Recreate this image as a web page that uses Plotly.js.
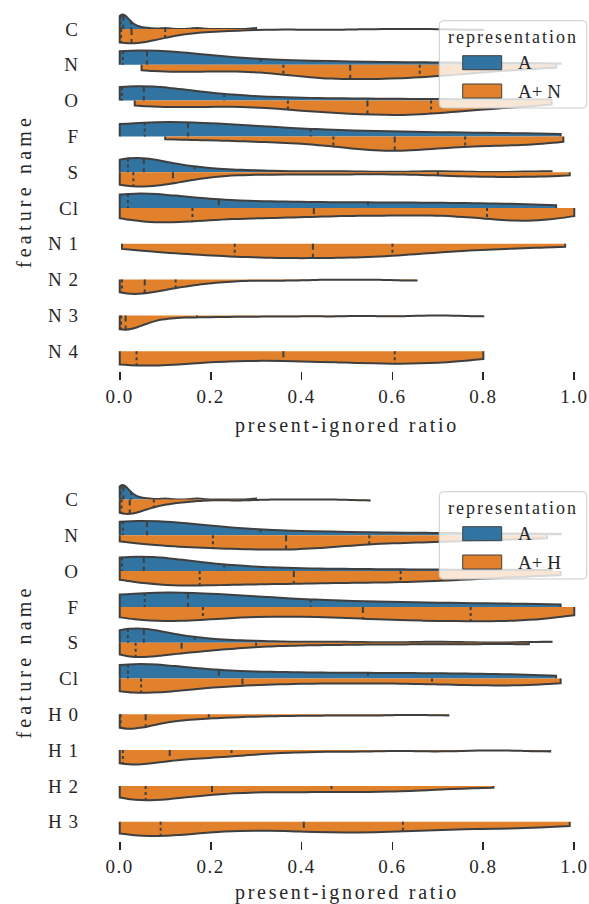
<!DOCTYPE html>
<html><head><meta charset="utf-8">
<script src="https://cdn.plot.ly/plotly-3.0.1.min.js"></script>
<style>
html,body{margin:0;padding:0;overflow:hidden;background:#fff}
.xtick text,.x2tick text{letter-spacing:1.5px}
.ytick text,.y2tick text{letter-spacing:1px}
.xtitle,.x2title{letter-spacing:2.7px}
.ytitle,.y2title{letter-spacing:4.2px}
</style>
</head><body><div id="chart"></div>
<script>
// ---------- categories / labels ----------
const catsTop = ['C','N','O','F','S','Cl','N 1','N 2','N 3','N 4'];
const catsBot = ['C','N','O','F','S','Cl','H 0','H 1','H 2','H 3'];
const xTickVals = [0, 0.2, 0.4, 0.6, 0.8, 1.0];
const xTickText = ['0.0','0.2','0.4','0.6','0.8','1.0'];
const seriesTop = ['A', 'A+ N'];
const seriesBot = ['A', 'A+ H'];

// ---------- samples: representation A (features C..Cl) ----------
const A_C  = [0,0,0,0.0005,0.001,0.0015,0.002,0.003,0.004,0.005,0.006,0.007,0.008,0.010,0.013,0.016,0.019,0.022,0.025,0.032,0.042,0.06,0.1,0.17,0.3];
const A_N  = [0,0,0.001,0.002,0.003,0.005,0.007,0.015,0.024,0.033,0.042,0.051,0.06,0.09,0.13,0.17,0.21,0.26,0.31,0.38,0.46,0.55,0.66,0.8,0.97];
const A_O  = [0,0,0.001,0.002,0.003,0.004,0.005,0.013,0.021,0.029,0.037,0.045,0.053,0.075,0.10,0.13,0.16,0.195,0.23,0.3,0.38,0.48,0.6,0.76,0.95];
const A_F  = [0,0.005,0.012,0.02,0.03,0.042,0.055,0.07,0.085,0.10,0.115,0.13,0.15,0.19,0.23,0.27,0.31,0.36,0.42,0.49,0.57,0.66,0.76,0.86,0.97];
const A_S  = [0,0.002,0.005,0.008,0.011,0.014,0.018,0.024,0.03,0.036,0.042,0.047,0.053,0.068,0.085,0.10,0.12,0.14,0.165,0.2,0.25,0.33,0.48,0.7,0.95];
const A_Cl = [0,0,0.002,0.005,0.009,0.013,0.018,0.045,0.075,0.105,0.14,0.18,0.218,0.27,0.32,0.37,0.43,0.49,0.546,0.61,0.67,0.73,0.8,0.88,0.96];

// ---------- samples: representation A+ N ----------
const AN_C  = [0,0,0,0.001,0.001,0.002,0.003,0.006,0.01,0.014,0.018,0.022,0.026,0.036,0.047,0.058,0.07,0.085,0.10,0.13,0.16,0.2,0.27,0.45,0.8];
const AN_N  = [0.048,0.08,0.12,0.17,0.23,0.29,0.36,0.39,0.415,0.44,0.46,0.485,0.507,0.535,0.56,0.585,0.61,0.635,0.66,0.69,0.72,0.76,0.8,0.86,0.96];
const AN_O  = [0.033,0.07,0.12,0.18,0.24,0.305,0.37,0.40,0.43,0.46,0.49,0.52,0.545,0.57,0.595,0.62,0.64,0.66,0.685,0.715,0.75,0.79,0.83,0.88,0.95];
const AN_F  = [0.10,0.19,0.27,0.33,0.38,0.43,0.47,0.50,0.525,0.55,0.57,0.59,0.605,0.625,0.65,0.675,0.70,0.73,0.76,0.795,0.83,0.865,0.9,0.94,0.976];
const AN_S  = [0,0.004,0.009,0.014,0.019,0.025,0.03,0.045,0.06,0.075,0.09,0.104,0.117,0.16,0.26,0.36,0.46,0.57,0.70,0.75,0.8,0.85,0.9,0.95,0.99];
const AN_Cl = [0,0.02,0.045,0.07,0.1,0.13,0.16,0.2,0.245,0.29,0.335,0.38,0.427,0.49,0.55,0.61,0.67,0.74,0.808,0.84,0.87,0.9,0.93,0.965,1.0];
const AN_N1 = [0.005,0.06,0.11,0.15,0.19,0.225,0.253,0.285,0.315,0.345,0.37,0.40,0.425,0.455,0.485,0.515,0.545,0.57,0.60,0.64,0.68,0.73,0.79,0.87,0.98];
const AN_N2 = [0,0,0.001,0.002,0.003,0.004,0.005,0.013,0.022,0.031,0.039,0.047,0.055,0.066,0.077,0.088,0.099,0.111,0.123,0.14,0.16,0.19,0.24,0.36,0.653];
const AN_N3 = [0,0,0,0.001,0.001,0.002,0.003,0.004,0.006,0.007,0.009,0.011,0.013,0.025,0.04,0.06,0.085,0.12,0.17,0.22,0.29,0.37,0.47,0.6,0.8];
const AN_N4 = [0,0,0.004,0.01,0.017,0.026,0.037,0.09,0.14,0.19,0.24,0.3,0.36,0.4,0.445,0.49,0.53,0.57,0.605,0.64,0.67,0.7,0.73,0.765,0.8];

// ---------- samples: representation A+ H ----------
const AH_C  = [0,0,0,0.001,0.002,0.003,0.004,0.007,0.01,0.013,0.016,0.019,0.022,0.03,0.038,0.047,0.056,0.065,0.075,0.09,0.105,0.125,0.16,0.26,0.55];
const AH_N  = [0,0.04,0.08,0.115,0.145,0.175,0.205,0.235,0.265,0.29,0.315,0.34,0.366,0.39,0.415,0.44,0.47,0.505,0.549,0.6,0.65,0.7,0.76,0.84,0.94];
const AH_O  = [0,0.03,0.06,0.09,0.12,0.148,0.176,0.21,0.245,0.28,0.315,0.35,0.383,0.42,0.46,0.5,0.54,0.58,0.618,0.66,0.7,0.75,0.81,0.88,0.97];
const AH_F  = [0,0.02,0.05,0.08,0.11,0.147,0.183,0.24,0.3,0.36,0.42,0.48,0.535,0.575,0.615,0.655,0.695,0.735,0.772,0.81,0.85,0.885,0.92,0.96,1.0];
const AH_S  = [0,0.004,0.009,0.015,0.021,0.028,0.035,0.052,0.069,0.086,0.103,0.12,0.136,0.155,0.175,0.2,0.23,0.26,0.3,0.36,0.43,0.52,0.63,0.76,0.9];
const AH_Cl = [0,0.005,0.012,0.02,0.028,0.037,0.047,0.08,0.115,0.15,0.19,0.23,0.27,0.33,0.4,0.47,0.54,0.61,0.687,0.74,0.79,0.84,0.885,0.93,0.97];
const AH_H0 = [0,0,0,0.0005,0.001,0.0015,0.002,0.011,0.02,0.03,0.039,0.048,0.057,0.075,0.095,0.115,0.14,0.165,0.196,0.23,0.28,0.35,0.44,0.56,0.723];
const AH_H1 = [0,0,0.001,0.002,0.003,0.005,0.007,0.024,0.041,0.058,0.075,0.092,0.11,0.13,0.152,0.175,0.198,0.222,0.246,0.28,0.33,0.41,0.53,0.7,0.947];
const AH_H2 = [0,0.008,0.017,0.026,0.036,0.046,0.057,0.08,0.105,0.13,0.155,0.18,0.203,0.245,0.29,0.335,0.38,0.42,0.466,0.51,0.555,0.6,0.645,0.7,0.822];
const AH_H3 = [0,0.014,0.029,0.044,0.059,0.074,0.09,0.135,0.185,0.235,0.29,0.345,0.405,0.44,0.475,0.51,0.55,0.585,0.623,0.68,0.74,0.8,0.86,0.925,0.99];

// ---------- kde bandwidths (style) ----------
const bwA  = [0.012, 0.13, 0.11, 0.17, 0.06, 0.1];
const bwAN = [0.06, 0.08, 0.08, 0.07, 0.08, 0.08, 0.08, 0.05, 0.04, 0.12];
const bwAH = [0.035, 0.08, 0.09, 0.1, 0.055, 0.09, 0.05, 0.06, 0.07, 0.1];

// ---------- style ----------
const FONT = '"Liberation Serif", "Times New Roman", serif';
const INK = '#262626', EDGE = '#3f3f3f', BLUE = '#3274a1', ORANGE = '#e1812c';
const LW = 2, VW = 0.8;
const W = 597, H = 904, ML = 97, PW = W - ML;
const px2x = p => (p - ML) / PW;
const px2y = p => (H - p) / H;

const listA = [A_C, A_N, A_O, A_F, A_S, A_Cl];
const listAN = [AN_C, AN_N, AN_O, AN_F, AN_S, AN_Cl, AN_N1, AN_N2, AN_N3, AN_N4];
const listAH = [AH_C, AH_N, AH_O, AH_F, AH_S, AH_Cl, AH_H0, AH_H1, AH_H2, AH_H3];

function quant(vals, p) {
  const s = vals.slice().sort((a, b) => a - b);
  const pos = p * (s.length - 1), lo = Math.floor(pos), hi = Math.ceil(pos);
  return s[lo] + (s[hi] - s[lo]) * (pos - lo);
}
function kde(vals, bw, x) {
  let s = 0;
  for (const v of vals) { const z = (x - v) / bw; s += Math.exp(-0.5 * z * z); }
  return s;
}
function maxKde(vals, bw) {
  const mn = Math.min(...vals), mx = Math.max(...vals);
  const dist = mx - mn, n = Math.ceil(dist / (bw / 3)), step = dist / n;
  let m = 0;
  for (let t = mn; t < mx + step / 2; t += step) m = Math.max(m, kde(vals, bw, t));
  return m;
}

const traces = [];
function violin(vals, pos, side, color, bw, xa, ya, name) {
  return {type: 'violin', orientation: 'h', x: vals, y0: pos, name: name, side: side,
    width: VW, bandwidth: bw, spanmode: 'hard', scalemode: 'width', points: false,
    box: {visible: false}, meanline: {visible: false}, fillcolor: color,
    line: {color: EDGE, width: LW}, xaxis: xa, yaxis: ya, showlegend: false, hoverinfo: 'skip'};
}
function quartiles(vals, bw, pos, dir, xa, ya) {
  const m = maxKde(vals, bw);
  const seg = q => { const h = (VW / 2) * kde(vals, bw, q) / m; return dir < 0 ? [pos - h, pos] : [pos, pos + h]; };
  const q1 = quant(vals, 0.25), q2 = quant(vals, 0.5), q3 = quant(vals, 0.75);
  const a = seg(q1), b = seg(q3), c = seg(q2);
  traces.push({type: 'scatter', mode: 'lines', x: [q1, q1, null, q3, q3], y: [a[0], a[1], null, b[0], b[1]],
    line: {color: EDGE, width: LW, dash: '3px,3px'}, xaxis: xa, yaxis: ya, showlegend: false, hoverinfo: 'skip'});
  traces.push({type: 'scatter', mode: 'lines', x: [q2, q2], y: c,
    line: {color: EDGE, width: LW, dash: '6px,4px'}, xaxis: xa, yaxis: ya, showlegend: false, hoverinfo: 'skip'});
}
function panel(blue, bwB, orange, bwO, xa, ya, names) {
  orange.forEach((v, i) => {
    if (blue[i]) traces.push(violin(blue[i], i, 'negative', BLUE, bwB[i], xa, ya, names[0]));
    traces.push(violin(v, i, 'positive', ORANGE, bwO[i], xa, ya, names[1]));
  });
  orange.forEach((v, i) => {
    if (blue[i]) quartiles(blue[i], bwB[i], i, -1, xa, ya);
    quartiles(v, bwO[i], i, 1, xa, ya);
  });
}
panel(listA, bwA, listAN, bwAN, 'x', 'y', seriesTop);
panel(listA, bwA, listAH, bwAH, 'x2', 'y2', seriesBot);

// ---------- axes ----------
function xAxis(anchor) {
  return {domain: [0, 1], anchor: anchor, range: [-0.05, 1.05], tickvals: xTickVals, ticktext: xTickText,
    ticks: 'outside', ticklen: 8, tickwidth: 1.8, tickcolor: INK, showgrid: false, zeroline: false, showline: false,
    tickfont: {family: FONT, size: 19, color: INK},
    title: {text: 'present-ignored ratio', font: {family: FONT, size: 20, color: INK}, standoff: 12}};
}
function yAxis(anchor, dom, cats) {
  return {domain: dom, anchor: anchor, range: [9.55, -0.5], tickvals: cats.map((c, i) => i), ticktext: cats,
    ticks: '', showgrid: false, zeroline: false, showline: false, ticklabelstandoff: 17,
    tickfont: {family: FONT, size: 19, color: INK},
    title: {text: 'feature name', font: {family: FONT, size: 20, color: INK}, standoff: 11}};
}

// ---------- legends (drawn as shapes + text) ----------
const shapes = [], annotations = [];
function rrect(x0, y0, x1, y1, r) {
  const P = (x, y) => px2x(x) + ',' + px2y(y);
  return 'M' + P(x0 + r, y0) + ' L' + P(x1 - r, y0) + ' Q' + P(x1, y0) + ' ' + P(x1, y0 + r) +
    ' L' + P(x1, y1 - r) + ' Q' + P(x1, y1) + ' ' + P(x1 - r, y1) + ' L' + P(x0 + r, y1) +
    ' Q' + P(x0, y1) + ' ' + P(x0, y1 - r) + ' L' + P(x0, y0 + r) + ' Q' + P(x0, y0) + ' ' + P(x0 + r, y0) + ' Z';
}
function legend(dy, names) {
  shapes.push({type: 'path', xref: 'paper', yref: 'paper', path: rrect(439.3, 20.7 + dy, 586.7, 108 + dy, 4),
    fillcolor: 'rgba(255,255,255,0.8)', line: {color: '#cccccc', width: 1}, layer: 'above'});
  annotations.push({xref: 'paper', yref: 'paper', x: px2x(513), y: px2y(36.7 + dy), text: 'representation',
    showarrow: false, xanchor: 'center', yanchor: 'middle', font: {family: FONT, size: 18, color: INK}});
  const cols = [BLUE, ORANGE], tops = [55.7, 84];
  names.forEach((nm, k) => {
    shapes.push({type: 'rect', xref: 'paper', yref: 'paper', x0: px2x(462.7), x1: px2x(501.7),
      y0: px2y(tops[k] + dy), y1: px2y(tops[k] + 14 + dy), fillcolor: cols[k], line: {color: EDGE, width: 1}, layer: 'above'});
    annotations.push({xref: 'paper', yref: 'paper', x: px2x(516), y: px2y(tops[k] + 7 + dy), text: nm,
      showarrow: false, xanchor: 'left', yanchor: 'middle', font: {family: FONT, size: 19, color: INK}});
  });
}
legend(0, seriesTop);
legend(471, seriesBot);

const layout = {
  width: W, height: H, margin: {l: ML, r: 0, t: 0, b: 0},
  paper_bgcolor: '#fff', plot_bgcolor: '#fff', showlegend: false, violinmode: 'overlay',
  xaxis: xAxis('y'), xaxis2: xAxis('y2'),
  yaxis: yAxis('x', [px2y(370.9), px2y(11.1)], catsTop),
  yaxis2: yAxis('x2', [px2y(841.4), px2y(481.6)], catsBot),
  shapes: shapes, annotations: annotations
};
Plotly.newPlot('chart', traces, layout, {staticPlot: true, displayModeBar: false}).then(() => {
  document.querySelectorAll('.annotation-text').forEach(t => {
    if (t.textContent === 'representation') t.style.letterSpacing = '2px';
  });
});
</script>
</body></html>
